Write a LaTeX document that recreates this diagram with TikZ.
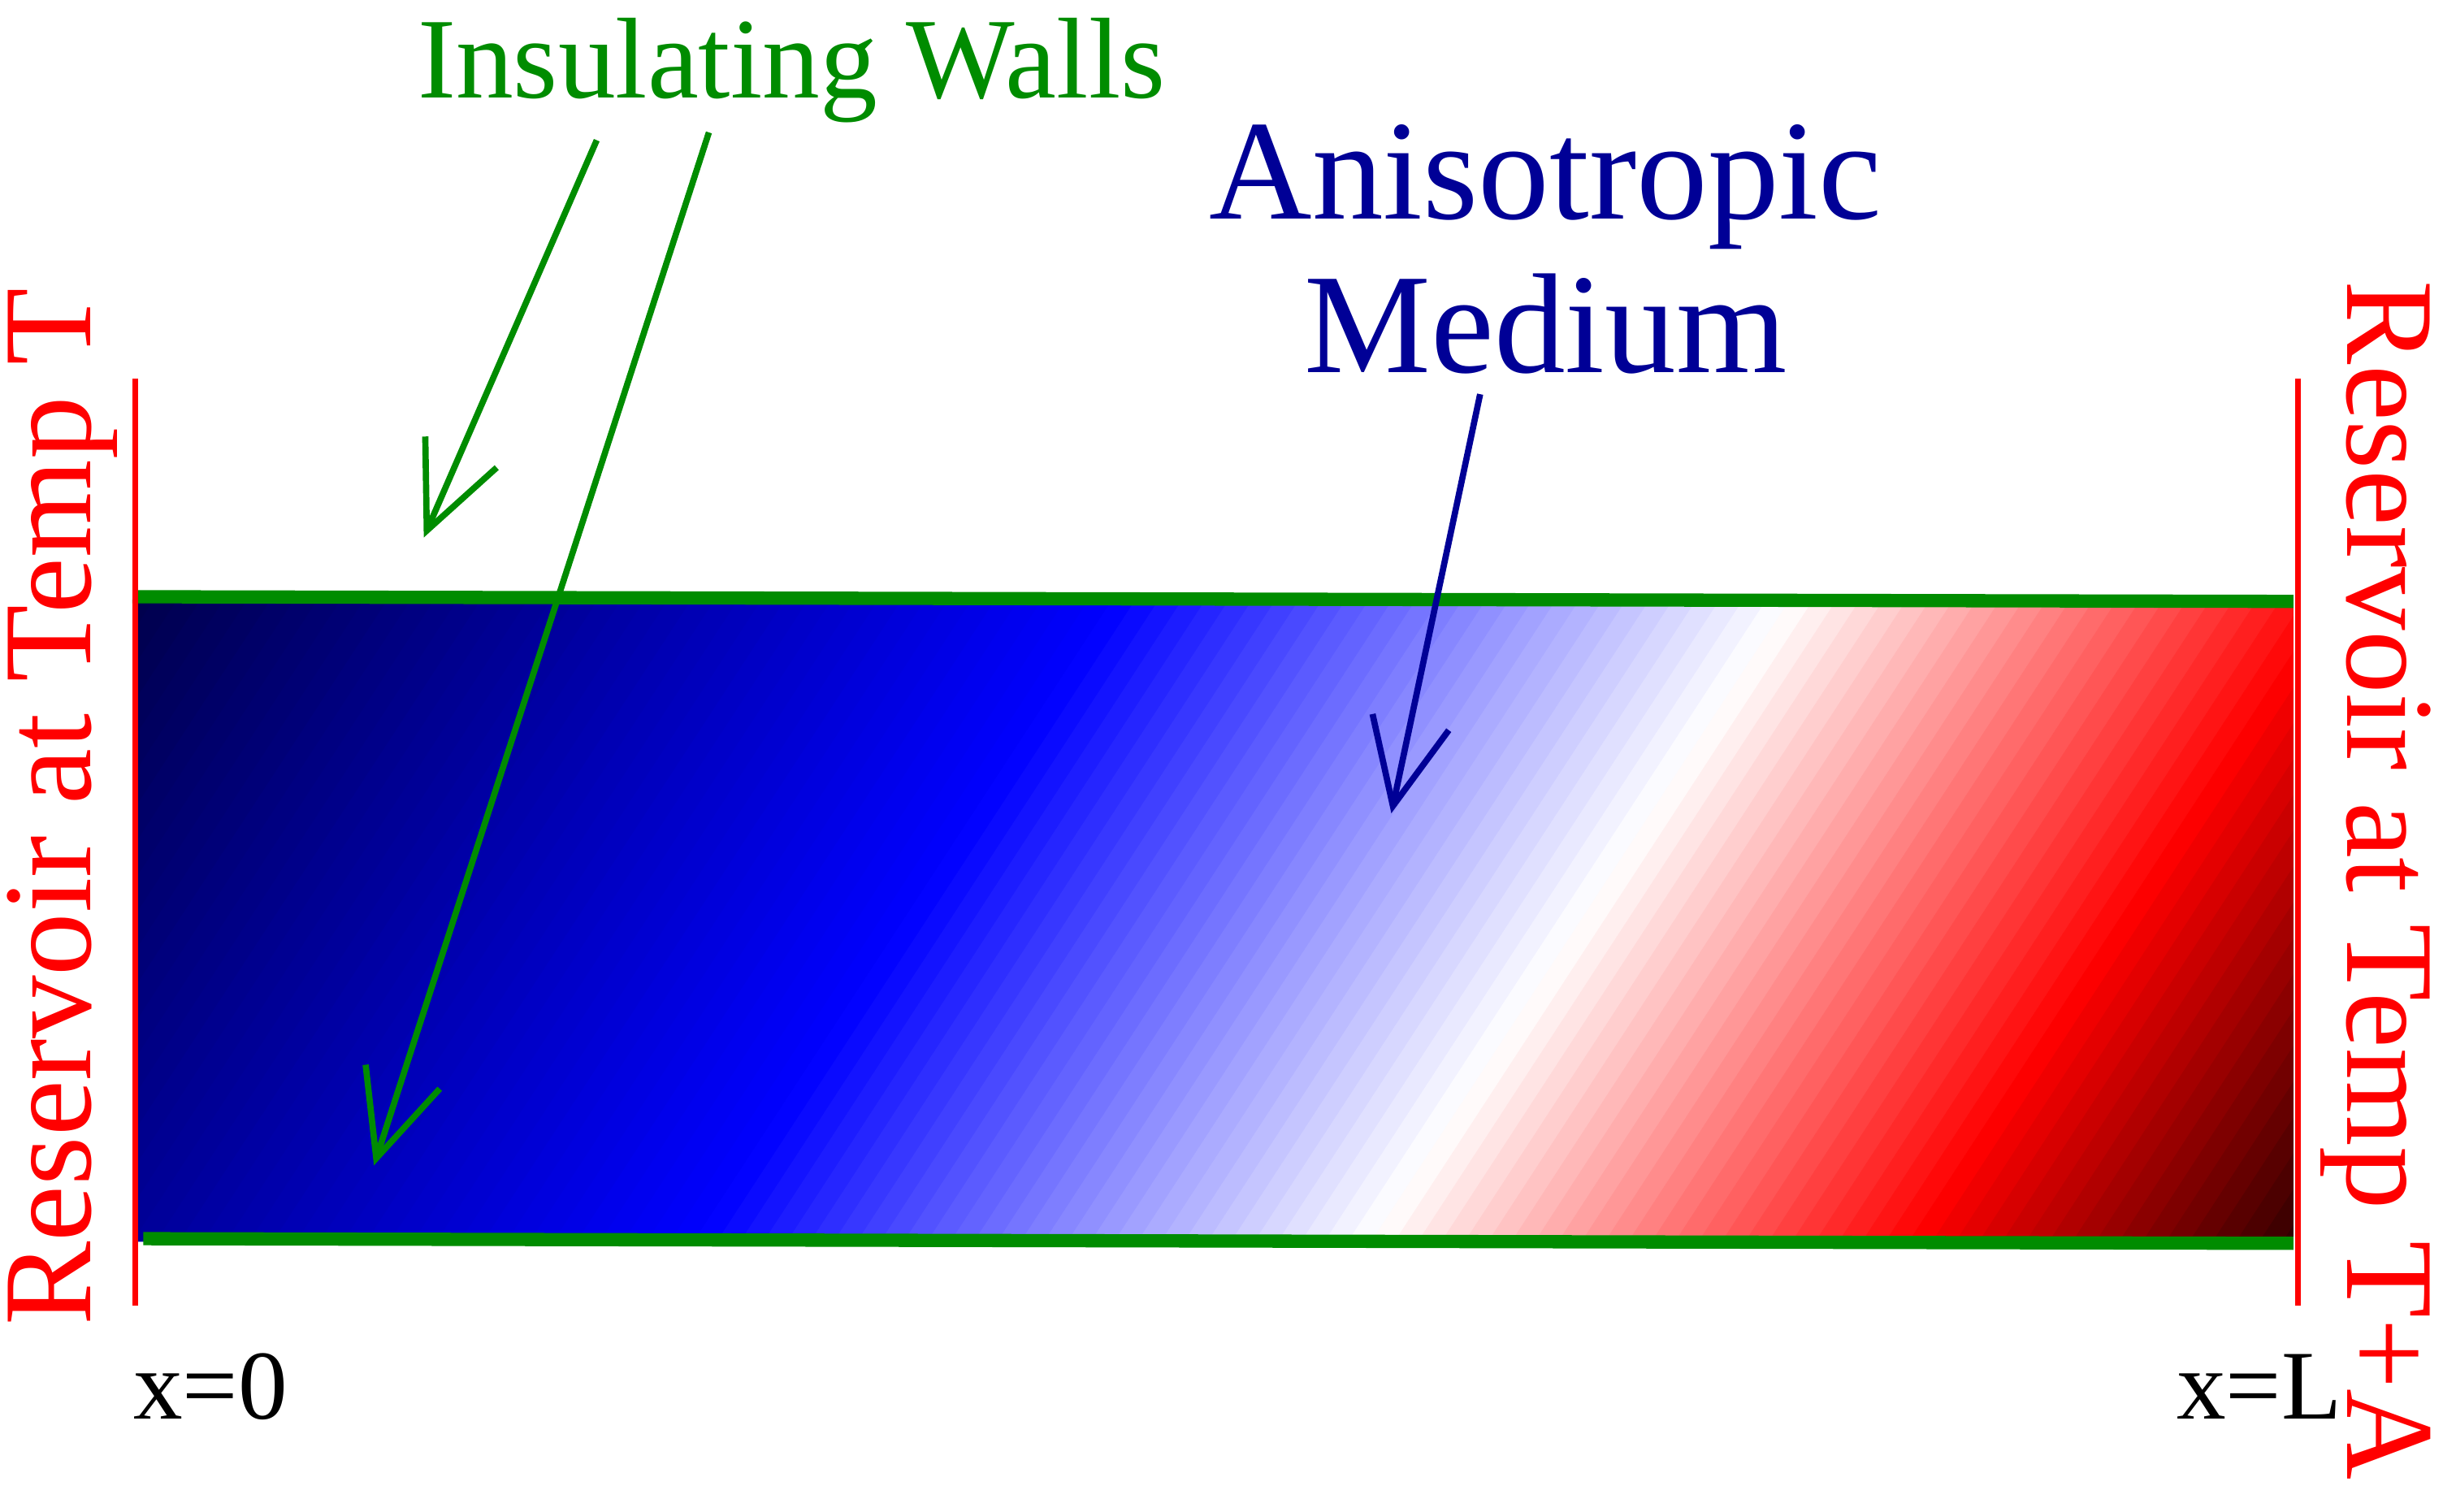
\documentclass[tikz,border=0pt]{standalone}
\usepackage{fontspec}
\setmainfont{Liberation Serif}
\usetikzlibrary{arrows.meta}
\begin{document}
\begin{tikzpicture}[x=0.1mm,y=-0.1mm,
  wall/.style={draw={rgb,255:red,0;green,140;blue,0},line width=0.85mm},
  res/.style={draw=red,line width=0.35mm},
  ptr/.style={line width=0.4mm,-{Straight Barb[length=5.5mm,width=5mm,line width=0.4mm]}},
  lbl/.style={font=\fontsize{18}{20}\selectfont}]
\useasboundingbox (0,0) rectangle (1568,970);
\begin{scope}
\clip (87,383) rectangle (1472,797);
\foreach \a in {-200,-185,...,1480}{
  \pgfmathsetmacro{\v}{\a+7.5}
  \pgfmathsetmacro{\r}{\v<450 ? 0 : (\v<880 ? (\v-450)/430 : (\v<1230 ? 1 : 1-0.8*(\v-1230)/242))}
  \pgfmathsetmacro{\g}{\v<450 ? 0 : (\v<880 ? (\v-450)/430 : (\v<1230 ? 1-(\v-880)/350 : 0))}
  \pgfmathsetmacro{\b}{\v<450 ? 0.3+0.7*(\v+183)/633 : (\v<880 ? 1 : (\v<1230 ? 1-(\v-880)/350 : 0))}
  \pgfmathsetmacro{\r}{max(0,min(1,\r))}
  \pgfmathsetmacro{\g}{max(0,min(1,\g))}
  \pgfmathsetmacro{\b}{max(0,min(1,\b))}
  \definecolor{sc}{rgb}{\r,\g,\b}
  \fill[sc] (\a,797) -- (\a+16,797) -- (\a+286,383) -- (\a+270,383) -- cycle;
}
\end{scope}
\draw[wall] (85,383) -- (1472,386);
\draw[wall] (92,795) -- (1472,798);
\draw[res] (87,243) -- (87,838);
\draw[res] (1475,243) -- (1475,838);
\node[red,rotate=90,font=\fontsize{23}{26}\selectfont,inner sep=0pt] (lres) at (40,518) {Reservoir at Temp T};
\node[red,rotate=-90,font=\fontsize{23}{26}\selectfont,inner sep=0pt] (rres) at (1525,565) {Reservoir at Temp T+A};
\node[lbl] (x0) at (135,890) {x=0};
\node[lbl] (xl) at (1450,890) {x=L};
\node[text={rgb,255:red,0;green,140;blue,0},font=\fontsize{21}{24}\selectfont] (ins) at (508,45) {Insulating Walls};
\node[text={rgb,255:red,0;green,0;blue,150},font=\fontsize{26}{28}\selectfont,align=center] (ani) at (992,160) {Anisotropic\\Medium};
\coordinate (a1s) at (383,90); \coordinate (a1e) at (272,345);
\coordinate (a2s) at (455,85); \coordinate (a2e) at (240,748);
\coordinate (a3s) at (950,253); \coordinate (a3e) at (893,522);
\draw[ptr,draw={rgb,255:red,0;green,140;blue,0}] (a1s) -- (a1e);
\draw[ptr,draw={rgb,255:red,0;green,140;blue,0}] (a2s) -- (a2e);
\draw[ptr,draw={rgb,255:red,0;green,0;blue,150}] (a3s) -- (a3e);
\end{tikzpicture}
\end{document}
